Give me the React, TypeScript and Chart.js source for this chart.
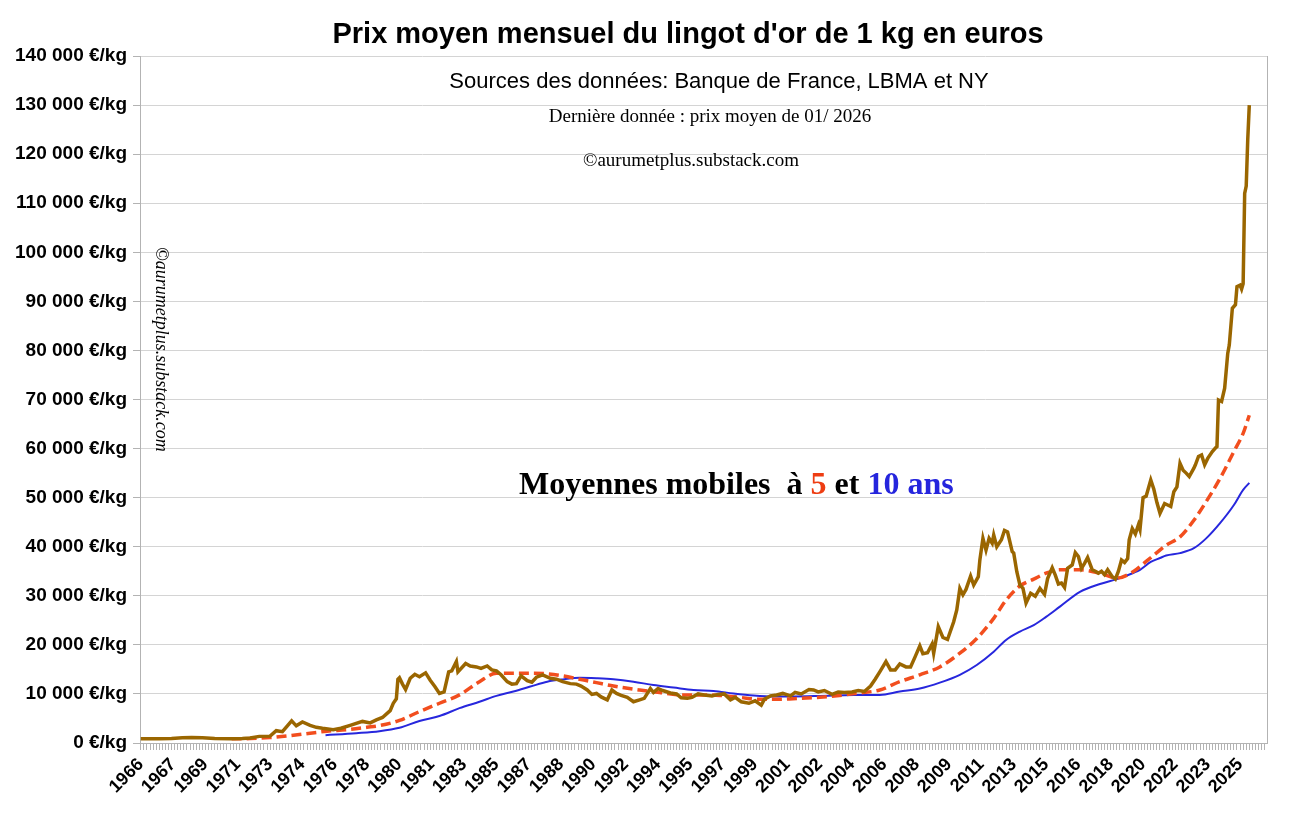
import React, { useEffect, useRef } from 'react';
import Chart from 'chart.js/auto';

// x = months counted from January 1966 (0 = 01/1966, 720 = 01/2026), y = €/kg
const goldKg: [number, number][] = [
  [0, 850], [12, 850], [20, 900], [27, 1080], [33, 1100], [40, 1050], [48, 900], [58, 850],
  [66, 900], [71, 1000], [77, 1350], [84, 1400], [88, 2500], [92, 2300], [98, 4500], [101, 3500],
  [105, 4300], [110, 3600], [114, 3200], [118, 3000], [125, 2700], [130, 3000], [136, 3600],
  [144, 4400], [149, 4100], [153, 4700], [157, 5200], [162, 6600], [164, 8100], [166, 9000],
  [167, 13000], [168, 13300], [170, 12000], [172, 10900], [175, 13200], [178, 14000], [181, 13500],
  [185, 14300], [188, 12800], [191, 11500], [194, 10100], [197, 10400], [200, 14500], [202, 14700],
  [205, 16600], [206, 14500], [211, 16200], [214, 15700], [218, 15500], [221, 15200], [225, 15700],
  [228, 14900], [231, 14700], [234, 13900], [238, 12500], [241, 12000], [244, 12100], [247, 13700],
  [251, 12700], [254, 12400], [257, 13400], [261, 13900], [266, 13200], [270, 13000], [274, 12500],
  [279, 12100], [283, 12000], [286, 11600], [290, 10800], [293, 9900], [296, 10100], [299, 9400],
  [303, 8800], [306, 10800], [309, 10100], [312, 9700], [316, 9300], [320, 8400], [324, 8800],
  [327, 9100], [331, 11100], [333, 10300], [336, 11100], [339, 10700], [344, 10200], [348, 10000],
  [351, 9200], [355, 9100], [358, 9300], [362, 10000], [366, 9800], [371, 9600], [375, 9900],
  [379, 10000], [383, 8800], [386, 9300], [390, 8400], [395, 8100], [399, 8600], [403, 7700],
  [405, 8900], [409, 9600], [413, 9800], [417, 10100], [422, 9600], [425, 10300], [429, 10000],
  [434, 10900], [437, 10800], [440, 10400], [444, 10700], [449, 9900], [453, 10400], [457, 10300],
  [462, 10400], [466, 10700], [470, 10500], [474, 11600], [477, 13000], [480, 14500], [484, 16600],
  [487, 14900], [490, 14900], [493, 16100], [497, 15500], [500, 15500], [503, 17600], [506, 19800],
  [508, 18200], [511, 18400], [514, 20200], [515, 18300], [518, 23700], [521, 21500], [524, 21100],
  [528, 24700], [530, 27100], [532, 31500], [534, 30200], [536, 31300], [539, 34000], [541, 32200],
  [544, 33900], [545, 37300], [547, 41700], [549, 39300], [551, 41700], [553, 40700], [554, 42400],
  [556, 40000], [559, 41400], [561, 43300], [563, 43000], [566, 39000], [567, 38700], [569, 34900],
  [571, 32200], [573, 31500], [575, 28500], [578, 30500], [581, 29900], [584, 31500], [587, 30300],
  [589, 33500], [592, 35700], [594, 34200], [596, 32400], [598, 32600], [600, 31700], [602, 35600],
  [605, 36300], [607, 38800], [609, 38000], [611, 35600], [613, 36600], [615, 37800], [618, 35300],
  [620, 35000], [622, 34600], [624, 35000], [626, 34300], [628, 35300], [631, 33900], [633, 33400],
  [635, 35000], [637, 37300], [639, 36800], [641, 37600], [642, 41400], [644, 43700], [646, 42600],
  [648, 44500], [649, 43500], [651, 50000], [653, 50300], [656, 53600], [658, 51700], [660, 49000],
  [662, 46800], [665, 48800], [667, 48500], [669, 48200], [671, 51200], [673, 52200], [675, 57000],
  [677, 55600], [679, 55000], [681, 54300], [684, 56000], [685, 56700], [687, 58400], [689, 58700],
  [691, 56700], [693, 58000], [696, 59400], [698, 60100], [699, 60400], [700, 69900], [702, 69600],
  [704, 72300], [706, 79400], [707, 81100], [709, 88600], [711, 89300], [712, 93000], [714, 93300],
  [715, 92500], [716, 93600], [717, 112000], [718, 113500], [719, 123000], [720, 130000],
];

// moyenne mobile 5 ans
const ma5: [number, number][] = [
  [59, 850], [71, 900], [84, 1100], [97, 1500], [110, 2000], [121, 2400], [134, 2700], [147, 3200],
  [156, 3600], [168, 4600], [181, 6400], [194, 8100], [207, 9800], [220, 12500], [231, 14200],
  [242, 14200], [253, 14200], [264, 14100], [274, 13700], [285, 13000], [296, 12300], [307, 11600],
  [324, 10800], [337, 10300], [350, 9800], [363, 9800], [376, 9700], [389, 9300], [402, 8900],
  [415, 8900], [428, 9100], [441, 9300], [454, 9700], [467, 10200], [480, 10800], [493, 12500],
  [506, 13900], [519, 15500], [532, 18300], [543, 21300], [554, 25400], [562, 29100], [571, 32000],
  [580, 33400], [588, 34600], [597, 35300], [610, 35300], [623, 34600], [634, 33600], [645, 35000],
  [653, 37000], [658, 38300], [666, 40300], [675, 42000], [684, 45400], [692, 49200], [701, 53900],
  [710, 59400], [716, 63100], [720, 66800],
];

// moyenne mobile 10 ans
const ma10: [number, number][] = [
  [120, 1600], [140, 2000], [155, 2400], [168, 3100], [181, 4500], [194, 5500], [207, 7100],
  [220, 8400], [231, 9600], [242, 10500], [253, 11500], [264, 12500], [275, 13000], [285, 13300],
  [296, 13200], [307, 13000], [320, 12500], [333, 11800], [346, 11300], [359, 10800], [372, 10600],
  [385, 10100], [398, 9700], [411, 9500], [424, 9500], [441, 9600], [463, 9800], [480, 9800],
  [493, 10500], [506, 11100], [519, 12300], [532, 13900], [543, 15900], [554, 18600], [562, 21000],
  [571, 22700], [580, 24000], [588, 25700], [597, 27800], [610, 30800], [623, 32400], [634, 33400],
  [645, 34700], [649, 35300], [656, 36900], [662, 37700], [666, 38200], [675, 38700], [684, 39700],
  [692, 41700], [701, 44800], [710, 48500], [716, 51600], [720, 53000],
];

const firstYear = 1966;
const lastMonth = 731; // axe jusqu'à 12/2026
const labelEvery = 21; // une étiquette tous les 21 mois
const yMax = 140000;
const yStep = 10000;

const title = "Prix moyen mensuel du lingot d'or de 1 kg en euros";
const sources = 'Sources des données: Banque de France, LBMA et NY';
const lastData = 'Dernière donnée : prix moyen de 01/ 2026';
const copyright = '©aurumetplus.substack.com';
const heading: [string, string][] = [
  ['Moyennes mobiles  à ', '#000000'],
  ['5', '#ee3d12'],
  [' et ', '#000000'],
  ['10 ans', '#2525dd'],
];

const GOLD = '#9a6600';
const RED = '#f24e1e';
const BLUE = '#2727dd';
const GRID = '#d4d4d4';
const AXIS = '#b3b3b3';

const toPoints = (s: [number, number][]) => s.map(([x, y]) => ({ x, y }));
const euros = (v: number) => String(v).replace(/\B(?=(\d{3})+(?!\d))/g, ' ') + ' €/kg';

const monthTicks: number[] = [];
for (let m = 0; m <= lastMonth; m++) {
  if (m % 2 === 0 || m % labelEvery === 0) monthTicks.push(m);
}

const textPlugin = {
  id: 'texts',
  afterDraw(chart: any) {
    const { ctx, chartArea } = chart;
    ctx.save();
    ctx.strokeStyle = AXIS;
    ctx.lineWidth = 1;
    ctx.beginPath();
    ctx.moveTo(chartArea.right + 0.5, chartArea.top);
    ctx.lineTo(chartArea.right + 0.5, chartArea.bottom);
    ctx.stroke();

    ctx.fillStyle = '#000';
    ctx.textAlign = 'center';
    ctx.textBaseline = 'alphabetic';
    ctx.font = 'bold 29px "Liberation Sans"';
    ctx.fillText(title, 688, 43);
    ctx.font = '22px "Liberation Sans"';
    ctx.fillText(sources, 719, 88);
    ctx.font = '19px "Liberation Serif"';
    ctx.fillText(lastData, 710, 122);
    ctx.fillText(copyright, 691, 166);

    ctx.textAlign = 'left';
    ctx.font = 'bold 32px "Liberation Serif"';
    let x = 519;
    for (const [t, c] of heading) {
      ctx.fillStyle = c;
      ctx.fillText(t, x, 494);
      x += ctx.measureText(t).width;
    }

    ctx.fillStyle = '#000';
    ctx.translate(156, 247);
    ctx.rotate(Math.PI / 2);
    ctx.font = 'italic 18px "Liberation Serif"';
    ctx.fillText(copyright, 0, 0);
    ctx.restore();
  },
};

const GoldChart = () => {
  const canvasRef = useRef<HTMLCanvasElement>(null);

  useEffect(() => {
    if (!canvasRef.current) return;
    Chart.defaults.font.family = '"Liberation Sans", Arial, sans-serif';
    const chart = new Chart(canvasRef.current, {
      type: 'line',
      data: {
        datasets: [
          {
            label: 'Prix moyen mensuel',
            data: toPoints(goldKg),
            borderColor: GOLD,
            borderWidth: 3.5,
            pointRadius: 0,
            tension: 0,
            order: 0,
          },
          {
            label: 'Moyenne mobile 5 ans',
            data: toPoints(ma5),
            borderColor: RED,
            borderWidth: 3.5,
            borderDash: [10, 5],
            pointRadius: 0,
            cubicInterpolationMode: 'monotone',
            order: 1,
          },
          {
            label: 'Moyenne mobile 10 ans',
            data: toPoints(ma10),
            borderColor: BLUE,
            borderWidth: 2,
            pointRadius: 0,
            cubicInterpolationMode: 'monotone',
            order: 2,
          },
        ],
      },
      options: {
        animation: false,
        responsive: true,
        maintainAspectRatio: false,
        layout: { padding: { top: 56, right: 25, left: 0, bottom: 0 } },
        scales: {
          x: {
            type: 'linear',
            min: -0.5,
            max: lastMonth + 0.5,
            afterBuildTicks: (axis: any) => {
              axis.ticks = monthTicks.map((value) => ({ value }));
            },
            afterFit: (axis: any) => {
              axis.height = 70;
            },
            ticks: {
              autoSkip: false,
              minRotation: 45,
              maxRotation: 45,
              padding: 4,
              color: '#000',
              font: { size: 18, weight: 'bold' },
              callback: (v: any) =>
                Number(v) % labelEvery === 0 ? String(firstYear + Math.floor(Number(v) / 12)) : '',
            },
            grid: {
              drawOnChartArea: false,
              drawTicks: true,
              tickLength: 7,
              color: (c: any) => (c.tick && c.tick.value % 2 === 0 ? AXIS : 'rgba(0,0,0,0)'),
            },
            border: { display: true, color: AXIS },
          },
          y: {
            min: 0,
            max: yMax,
            afterFit: (axis: any) => {
              axis.width = 140;
            },
            ticks: {
              stepSize: yStep,
              padding: 6,
              color: '#000',
              font: { size: 19, weight: 'bold' },
              callback: (v: any) => euros(Number(v)),
            },
            grid: { color: GRID, tickLength: 7, tickColor: AXIS },
            border: { display: true, color: AXIS },
          },
        },
        plugins: {
          legend: { display: false },
          tooltip: { enabled: false },
          title: { display: false },
        },
      },
      plugins: [textPlugin],
    });

    return () => {
      chart.destroy();
    };
  }, []);

  return (
    <div style={{ position: 'absolute', left: 0, top: 0, width: 1292, height: 813, background: '#fff' }}>
      <canvas ref={canvasRef} />
    </div>
  );
};

export default function App() {
  return <GoldChart />;
}
